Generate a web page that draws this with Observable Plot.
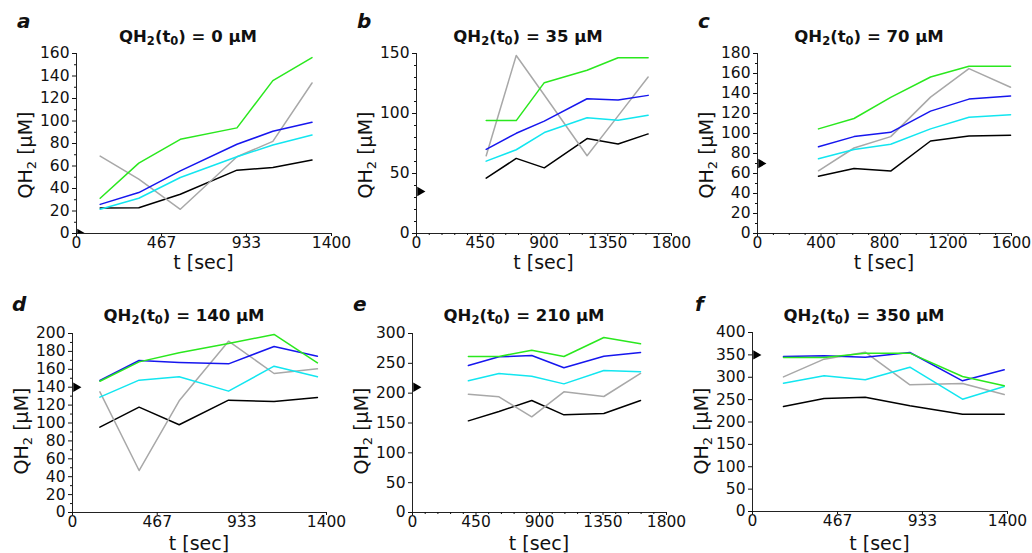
<!DOCTYPE html>
<html><head><meta charset="utf-8">
<script src="https://cdn.jsdelivr.net/npm/d3@7"></script>
<script src="https://cdn.jsdelivr.net/npm/@observablehq/plot@0.6"></script>
<style>
body{margin:0;background:#fff;}
#chart{position:relative;width:1032px;height:553px;overflow:hidden;font-family:"DejaVu Sans",sans-serif;background:#fff;}
#chart svg.panel{position:absolute;overflow:visible;}
#overlay{position:absolute;left:0;top:0;pointer-events:none;}
</style></head><body><div id="chart"></div>
<script>
// ---- data ----
const seriesNames = ["S1", "S2", "S3", "S4", "S5"];
const seriesColors = ["#000000", "#a8a8a8", "#12e6f0", "#1616ee", "#2ae81e"];
const panelLetters = ["a", "b", "c", "d", "e", "f"];
const t0Values = [0, 35, 70, 140, 210, 350];

const xTicks1400 = [0, 467, 933, 1400];
const xTicks1800 = [0, 450, 900, 1350, 1800];
const xTicks1600 = [0, 400, 800, 1200, 1600];
const yTicksA = [0, 20, 40, 60, 80, 100, 120, 140, 160];
const yTicksB = [0, 50, 100, 150];
const yTicksC = [0, 20, 40, 60, 80, 100, 120, 140, 160, 180];
const yTicksD = [0, 20, 40, 60, 80, 100, 120, 140, 160, 180, 200];
const yTicksE = [0, 50, 100, 150, 200, 250, 300];
const yTicksF = [0, 50, 100, 150, 200, 250, 300, 350, 400];

const a_t = [130, 342, 570, 881, 1078, 1293];
const a_black = [22.6, 22.9, 34.9, 56.3, 58.7, 65.3];
const a_gray  = [68.8, 48.3, 21.5, 68.2, 81.9, 133.8];
const a_cyan  = [21.5, 31.3, 49.8, 68.2, 78.7, 87.6];
const a_blue  = [25.9, 36.4, 55.7, 79.3, 90.9, 98.9];
const a_green = [31.3, 62.6, 83.7, 93.9, 135.9, 156.4];

const b_t = [492, 704, 902, 1204, 1423, 1635];
const b_black = [46.1, 62.6, 54.7, 79.1, 74.6, 83.0];
const b_gray  = [64.8, 148.3, 115.4, 64.8, 98.0, 130.4];
const b_cyan  = [60.3, 69.8, 84.1, 96.4, 94.4, 98.6];
const b_blue  = [70.1, 83.5, 93.6, 112.3, 111.2, 115.1];
const b_green = [94.1, 94.1, 125.7, 136.0, 146.4, 146.4];

const c_t = [384, 608, 839, 1090, 1332, 1594];
const c_black = [57.3, 65.0, 62.4, 92.5, 97.6, 98.2];
const c_gray  = [62.7, 85.5, 96.9, 136.4, 164.9, 146.2];
const c_cyan  = [74.8, 84.1, 89.2, 104.6, 116.3, 118.7];
const c_blue  = [86.8, 96.9, 101.2, 122.4, 134.4, 137.4];
const c_green = [104.6, 115.0, 136.1, 156.5, 167.3, 167.3];

const d_t = [151, 367, 588, 860, 1111, 1350];
const d_black = [95.3, 117.7, 98.0, 125.5, 124.0, 128.5];
const d_gray  = [134.8, 46.9, 124.8, 191.4, 155.3, 160.5];
const d_cyan  = [128.9, 147.9, 151.6, 135.6, 163.5, 151.6];
const d_blue  = [147.5, 169.8, 167.6, 166.1, 185.5, 174.7];
const d_green = [146.7, 168.3, 178.4, 188.8, 198.9, 167.2];

const e_t = [396, 613, 845, 1073, 1356, 1616];
const e_black = [153.6, 169.3, 187.7, 163.7, 165.9, 187.7];
const e_gray  = [198.3, 193.9, 160.3, 202.2, 194.4, 233.0];
const e_cyan  = [220.7, 233.0, 228.5, 215.6, 238.0, 235.8];
const e_blue  = [246.4, 260.9, 263.1, 242.5, 262.0, 268.2];
const e_green = [261.5, 261.5, 272.0, 261.5, 293.3, 282.7];

const f_t = [170, 393, 619, 864, 1153, 1382];
const f_black = [234.6, 252.5, 255.5, 236.1, 217.5, 217.5];
const f_gray  = [300.9, 340.4, 356.0, 283.0, 286.0, 261.5];
const f_cyan  = [286.8, 303.2, 294.2, 322.5, 251.0, 279.3];
const f_blue  = [346.4, 347.9, 344.9, 355.3, 292.0, 316.6];
const f_green = [344.1, 344.1, 353.8, 353.8, 301.7, 280.8];

// ---- panel setup ----
const panels = [
  {t: a_t, s: [a_black, a_gray, a_cyan, a_blue, a_green], xd: [0, 1400], xt: xTicks1400, xm: null, yd: [0, 160], yt: yTicksA, ym: 10,
   left: 0, top: 0, mL: 76, mR: 13, mT: 53, mB: 43},
  {t: b_t, s: [b_black, b_gray, b_cyan, b_blue, b_green], xd: [0, 1800], xt: xTicks1800, xm: 90, yd: [0, 150], yt: yTicksB, ym: 10,
   left: 340, top: 0, mL: 76, mR: 13, mT: 53, mB: 43},
  {t: c_t, s: [c_black, c_gray, c_cyan, c_blue, c_green], xd: [0, 1600], xt: xTicks1600, xm: 100, yd: [0, 180], yt: yTicksC, ym: 10,
   left: 685, top: 0, mL: 72, mR: 18, mT: 53, mB: 43},
  {t: d_t, s: [d_black, d_gray, d_cyan, d_blue, d_green], xd: [0, 1400], xt: xTicks1400, xm: null, yd: [0, 200], yt: yTicksD, ym: 10,
   left: 0, top: 276, mL: 72, mR: 18, mT: 57, mB: 40},
  {t: e_t, s: [e_black, e_gray, e_cyan, e_blue, e_green], xd: [0, 1800], xt: xTicks1800, xm: 90, yd: [0, 300], yt: yTicksE, ym: null,
   left: 340, top: 276, mL: 72, mR: 18, mT: 57, mB: 40},
  {t: f_t, s: [f_black, f_gray, f_cyan, f_blue, f_green], xd: [0, 1400], xt: xTicks1400, xm: null, yd: [0, 400], yt: yTicksF, ym: null,
   left: 685, top: 276, mL: 67, mR: 22, mT: 56, mB: 41}
];
const W = 344, H = 276;
const chart = document.getElementById("chart");
const fmt = d => String(d);

panels.forEach((p, k) => {
  const rows = [];
  seriesNames.forEach((name, j) => p.t.forEach((t, i) => rows.push({series: name, t, v: p.s[j][i]})));
  const marks = [
    Plot.line(rows, {x: "t", y: "v", z: "series", stroke: "series", strokeWidth: 1.5}),
    Plot.dot([{x: 0, y: t0Values[k]}], {x: "x", y: "y", symbol: "triangle2", rotate: 90, r: 4.5, fill: "#000", stroke: "none", dx: 3.5, clip: true}),
    Plot.ruleX([0], {stroke: "#222"}),
    Plot.ruleY([0], {stroke: "#222"}),
    Plot.axisY({ticks: p.yt, tickSize: 4, tickPadding: 3, label: null, fontSize: 15.5, tickFormat: fmt}),
    Plot.axisX({ticks: p.xt, tickSize: 3, tickPadding: 0.5, label: null, fontSize: 15.5, tickFormat: fmt})
  ];
  if (p.ym) marks.push(Plot.axisY({ticks: d3.range(p.yd[0], p.yd[1] + 0.001, p.ym).filter(v => !p.yt.includes(v)), tickSize: 2, tickFormat: () => "", label: null}));
  if (p.xm) marks.push(Plot.axisX({ticks: d3.range(p.xd[0], p.xd[1] + 0.001, p.xm).filter(v => !p.xt.includes(v)), tickSize: 2, tickFormat: () => "", label: null}));
  const svg = Plot.plot({
    width: W, height: H,
    marginLeft: p.mL, marginRight: p.mR, marginTop: p.mT, marginBottom: p.mB,
    style: {fontFamily: "DejaVu Sans", fontSize: "15.5px", color: "#111", background: "transparent", overflow: "visible"},
    x: {domain: p.xd},
    y: {domain: p.yd},
    color: {domain: seriesNames, range: seriesColors},
    marks
  });
  svg.classList.add("panel");
  svg.style.left = p.left + "px";
  svg.style.top = p.top + "px";
  chart.appendChild(svg);
});

// ---- overlay text: letters, titles, axis labels ----
const ov = d3.select(chart).append("svg").attr("id", "overlay")
  .attr("width", 1032).attr("height", 553)
  .style("font-family", "DejaVu Sans").style("fill", "#111");

panels.forEach((p, k) => {
  const pl = p.left + p.mL, pr = p.left + W - p.mR;
  const row2 = p.top > 0;
  const letterX = [17, 357, 698, 12, 353, 695][k];
  ov.append("text").attr("x", letterX).attr("y", row2 ? 311 : 28)
    .attr("font-size", 20).attr("font-weight", "bold").attr("font-style", "italic")
    .text(panelLetters[k]);

  const title = ov.append("text").attr("x", pl + 112).attr("y", row2 ? 321 : 42)
    .attr("text-anchor", "middle").attr("font-size", 16.5).attr("font-weight", "bold");
  title.append("tspan").text("QH");
  title.append("tspan").attr("font-size", 11.5).attr("dy", 3).text("2");
  title.append("tspan").attr("dy", -3).text("(t");
  title.append("tspan").attr("font-size", 11.5).attr("dy", 3).text("0");
  title.append("tspan").attr("dy", -3).text(") = " + t0Values[k] + " µM");

  ov.append("text").attr("x", (pl + pr) / 2).attr("y", row2 ? 550 : 268.5)
    .attr("text-anchor", "middle").attr("font-size", 19).text("t [sec]");

  const cy = row2 ? 431 : 155, bx = pl - 44;
  const yl = ov.append("text").attr("transform", `translate(${bx},${cy}) rotate(-90)`)
    .attr("text-anchor", "middle").attr("font-size", 19);
  yl.append("tspan").text("QH");
  yl.append("tspan").attr("font-size", 13).attr("dy", 4).text("2");
  yl.append("tspan").attr("dy", -4).text(" [µM]");
});
</script></body></html>
